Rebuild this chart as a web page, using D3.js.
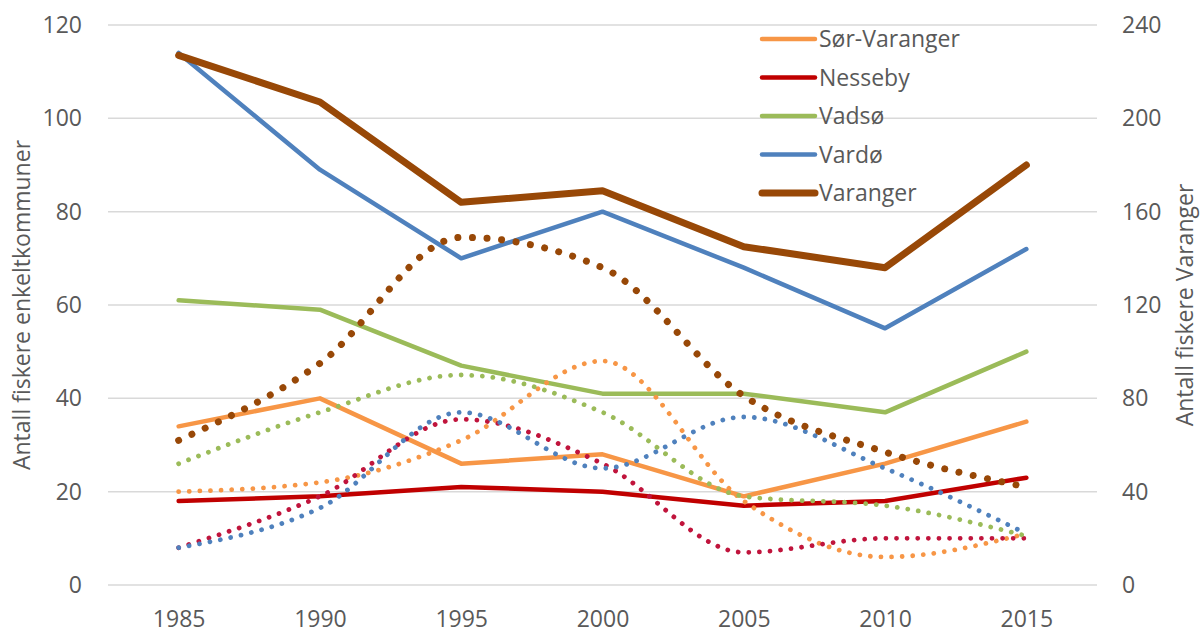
<!DOCTYPE html>
<html>
<head>
<meta charset="utf-8">
<script src="https://cdn.jsdelivr.net/npm/d3@7"></script>
<style>
  html, body { margin: 0; padding: 0; background: #fff; }
  svg text { font-family: "Open Sans", sans-serif; fill: #595959; }
</style>
</head>
<body>
<svg id="chart" width="1203" height="633"></svg>
<script>
const years = [1985, 1990, 1995, 2000, 2005, 2010, 2015];
const leftTicks = [0, 20, 40, 60, 80, 100, 120];
const rightTicks = [0, 40, 80, 120, 160, 200, 240];

// solid lines (left axis, except Varanger on right axis)
const sorVaranger = [34, 40, 26, 28, 19, 26, 35];
const nesseby = [18, 19, 21, 20, 17, 18, 23];
const vadso = [61, 59, 47, 41, 41, 37, 50];
const vardo = [114, 89, 70, 80, 68, 55, 72];
const varanger = [227, 207, 164, 169, 145, 136, 180];

// dotted smoothed lines, no legend entry
const sorVarangerDot = [20, 22, 31, 48, 18, 6, 11];
const nessebyDot = [8, 19, 35.5, 26, 7, 10, 10];
const vadsoDot = [26, 37, 45, 37, 19, 17, 10.5];
const vardoDot = [8, 16.5, 37, 25, 36, 25, 11];
const varangerDot = [62, 95, 149, 136, 81, 57, 42];

const legendNames = ['Sør-Varanger', 'Nesseby', 'Vadsø', 'Vardø', 'Varanger'];
const colors = ['#F79646', '#C00000', '#9BBB59', '#4F81BD', '#984807'];

const svg = d3.select('#chart');
const margin = { top: 25, right: 106, bottom: 48, left: 108 };
const width = 1203, height = 633;

const x = d3.scalePoint().domain(years).range([margin.left, width - margin.right]).padding(0.5);
const yL = d3.scaleLinear().domain([0, 120]).range([height - margin.bottom, margin.top]);
const yR = d3.scaleLinear().domain([0, 240]).range([height - margin.bottom, margin.top]);

// gridlines
svg.append('g').selectAll('line')
  .data(leftTicks)
  .enter()
  .append('line')
  .attr('x1', margin.left)
  .attr('x2', width - margin.right)
  .attr('y1', d => yL(d))
  .attr('y2', d => yL(d))
  .attr('stroke', '#D9D9D9')
  .attr('stroke-width', 1.5);

const styleAxis = g => {
  g.select('.domain').remove();
  g.selectAll('text').style('font-size', '23px').style('font-family', '"Open Sans", sans-serif').attr('fill', '#595959');
};

svg.append('g')
  .attr('transform', `translate(${margin.left},0)`)
  .call(d3.axisLeft(yL).tickValues(leftTicks).tickSize(0).tickPadding(26))
  .call(styleAxis);

svg.append('g')
  .attr('transform', `translate(${width - margin.right},0)`)
  .call(d3.axisRight(yR).tickValues(rightTicks).tickSize(0).tickPadding(25))
  .call(styleAxis);

svg.append('g')
  .attr('transform', `translate(0,${height - margin.bottom})`)
  .call(d3.axisBottom(x).tickSize(0).tickPadding(26))
  .call(styleAxis);

// axis titles
const midY = (yL(0) + yL(120)) / 2;
svg.append('text')
  .attr('transform', `translate(22,${midY}) rotate(-90)`)
  .attr('text-anchor', 'middle')
  .attr('dy', '0.35em')
  .style('font-size', '23px')
  .text('Antall fiskere enkeltkommuner');
svg.append('text')
  .attr('transform', `translate(1185,${midY}) rotate(-90)`)
  .attr('text-anchor', 'middle')
  .attr('dy', '0.35em')
  .style('font-size', '23px')
  .text('Antall fiskere Varanger');

const lineL = d3.line().x((d, i) => x(years[i])).y(d => yL(d));
const lineR = d3.line().x((d, i) => x(years[i])).y(d => yR(d));
const smoothL = d3.line().x((d, i) => x(years[i])).y(d => yL(d)).curve(d3.curveMonotoneX);
const smoothR = d3.line().x((d, i) => x(years[i])).y(d => yR(d)).curve(d3.curveMonotoneX);

const solidLeft = [sorVaranger, nesseby, vadso, vardo];
const dotLeft = [sorVarangerDot, nessebyDot, vadsoDot, vardoDot];
const dotColors = ['#F79646', '#C0143C', '#9BBB59', '#4F81BD'];

const plot = svg.append('g');

solidLeft.forEach((s, i) => {
  plot.append('path')
    .attr('d', lineL(s))
    .attr('fill', 'none')
    .attr('stroke', colors[i])
    .attr('stroke-width', 4.5)
    .attr('stroke-linejoin', 'round')
    .attr('stroke-linecap', 'round');
});

dotLeft.forEach((s, i) => {
  plot.append('path')
    .attr('d', smoothL(s))
    .attr('fill', 'none')
    .attr('stroke', dotColors[i])
    .attr('stroke-width', 4.8)
    .attr('stroke-linecap', 'round')
    .attr('stroke-dasharray', '0.01 10.6');
});

plot.append('path')
  .attr('d', lineR(varanger))
  .attr('fill', 'none')
  .attr('stroke', colors[4])
  .attr('stroke-width', 7)
  .attr('stroke-linejoin', 'round')
  .attr('stroke-linecap', 'round');

plot.append('path')
  .attr('d', smoothR(varangerDot))
  .attr('fill', 'none')
  .attr('stroke', colors[4])
  .attr('stroke-width', 7)
  .attr('stroke-linecap', 'round')
  .attr('stroke-dasharray', '0.01 14.6');

// legend
const legend = svg.append('g').attr('transform', 'translate(762,39)');
const rows = legend.selectAll('g')
  .data(legendNames)
  .enter()
  .append('g')
  .attr('transform', (d, i) => `translate(0,${i * 38.5})`);
rows.append('line')
  .attr('x1', 0)
  .attr('x2', 53)
  .attr('stroke', (d, i) => colors[i])
  .attr('stroke-width', (d, i) => i === 4 ? 7 : 4.5)
  .attr('stroke-linecap', 'round');
rows.append('text')
  .attr('x', 57)
  .attr('dy', '0.35em')
  .style('font-size', '23px')
  .text(d => d);
</script>
</body>
</html>
